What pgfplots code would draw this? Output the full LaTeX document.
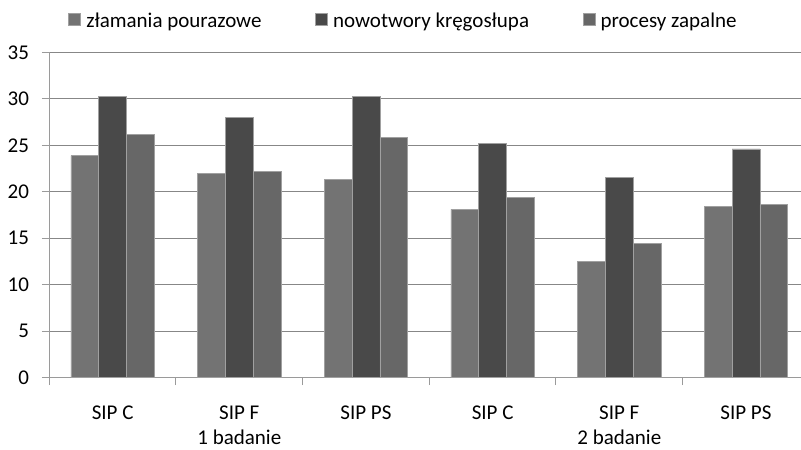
\documentclass[border=0pt]{standalone}
\usepackage{fontspec}
\setmainfont{Carlito}
\usepackage{pgfplots}
\pgfplotsset{compat=1.18}
\definecolor{cLight}{HTML}{737373}
\definecolor{cDark}{HTML}{494949}
\definecolor{cMid}{HTML}{676767}
\definecolor{gridgray}{HTML}{878787}
\definecolor{axisgray}{HTML}{9A9A9A}
\definecolor{bordergray}{HTML}{A0A0A0}
\newcommand{\cf}{\fontsize{21bp}{25bp}\selectfont}
\begin{document}
\begin{tikzpicture}
\begin{axis}[
  at={(0,0)}, anchor=south west,
  scale only axis,
  width=760bp, height=325.4bp,
  xmin=-0.5, xmax=5.5,
  ymin=0, ymax=35,
  ytick={0,5,...,35},
  xtick={-0.5,0.5,...,5.5},
  xticklabels={{},{},{},{},{},{},{}},
  extra x ticks={0,1,2,3,4,5},
  extra x tick labels={{SIP C},{SIP F\\1 badanie},{SIP PS},{SIP C},{SIP F\\2 badanie},{SIP PS}},
  extra x tick style={major tick length=0pt, grid=none},
  xticklabel style={font=\cf, align=center, anchor=north, inner sep=0pt, yshift=-28.3bp},
  yticklabel style={font=\cf, anchor=east, inner sep=0pt, xshift=-12.7bp},
  /pgf/number format/assume math mode=true,
  tick align=outside,
  major tick length=7.5bp,
  tick style={draw=axisgray, line width=1bp},
  axis lines*=left,
  axis line style={draw=axisgray, line width=1bp, -},
  ymajorgrids,
  grid style={draw=gridgray, line width=1bp},
  ybar=0pt, bar width=27.8bp,
  legend columns=3,
  legend style={at={(rel axis cs:0,1)}, anchor=south west, xshift=19bp, yshift=23.5bp,
    draw=none, fill=none, inner sep=0pt, font=\cf,
    nodes={inner sep=0pt},
    /tikz/every odd column/.append style={column sep=5.5bp},
    /tikz/every even column/.append style={column sep=53.8bp}},
  legend image code/.code={\fill[#1] (0bp,-4.85bp) rectangle (11.7bp,6.85bp);},
]
\addplot[fill=cLight, draw=bordergray, line width=0.6bp] coordinates {(0,23.88) (1,21.94) (2,21.33) (3,18.11) (4,12.48) (5,18.43)};
\addplot[fill=cDark, draw=bordergray, line width=0.6bp] coordinates {(0,30.22) (1,28.0) (2,30.22) (3,25.2) (4,21.55) (5,24.6)};
\addplot[fill=cMid, draw=bordergray, line width=0.6bp] coordinates {(0,26.21) (1,22.23) (2,25.85) (3,19.36) (4,14.41) (5,18.6)};
\legend{złamania pourazowe, nowotwory kręgosłupa, procesy zapalne}
\end{axis}
\pgfresetboundingbox
\useasboundingbox (-49.3bp,-72.3bp) rectangle (751.7bp,377.7bp);
\end{tikzpicture}
\end{document}
